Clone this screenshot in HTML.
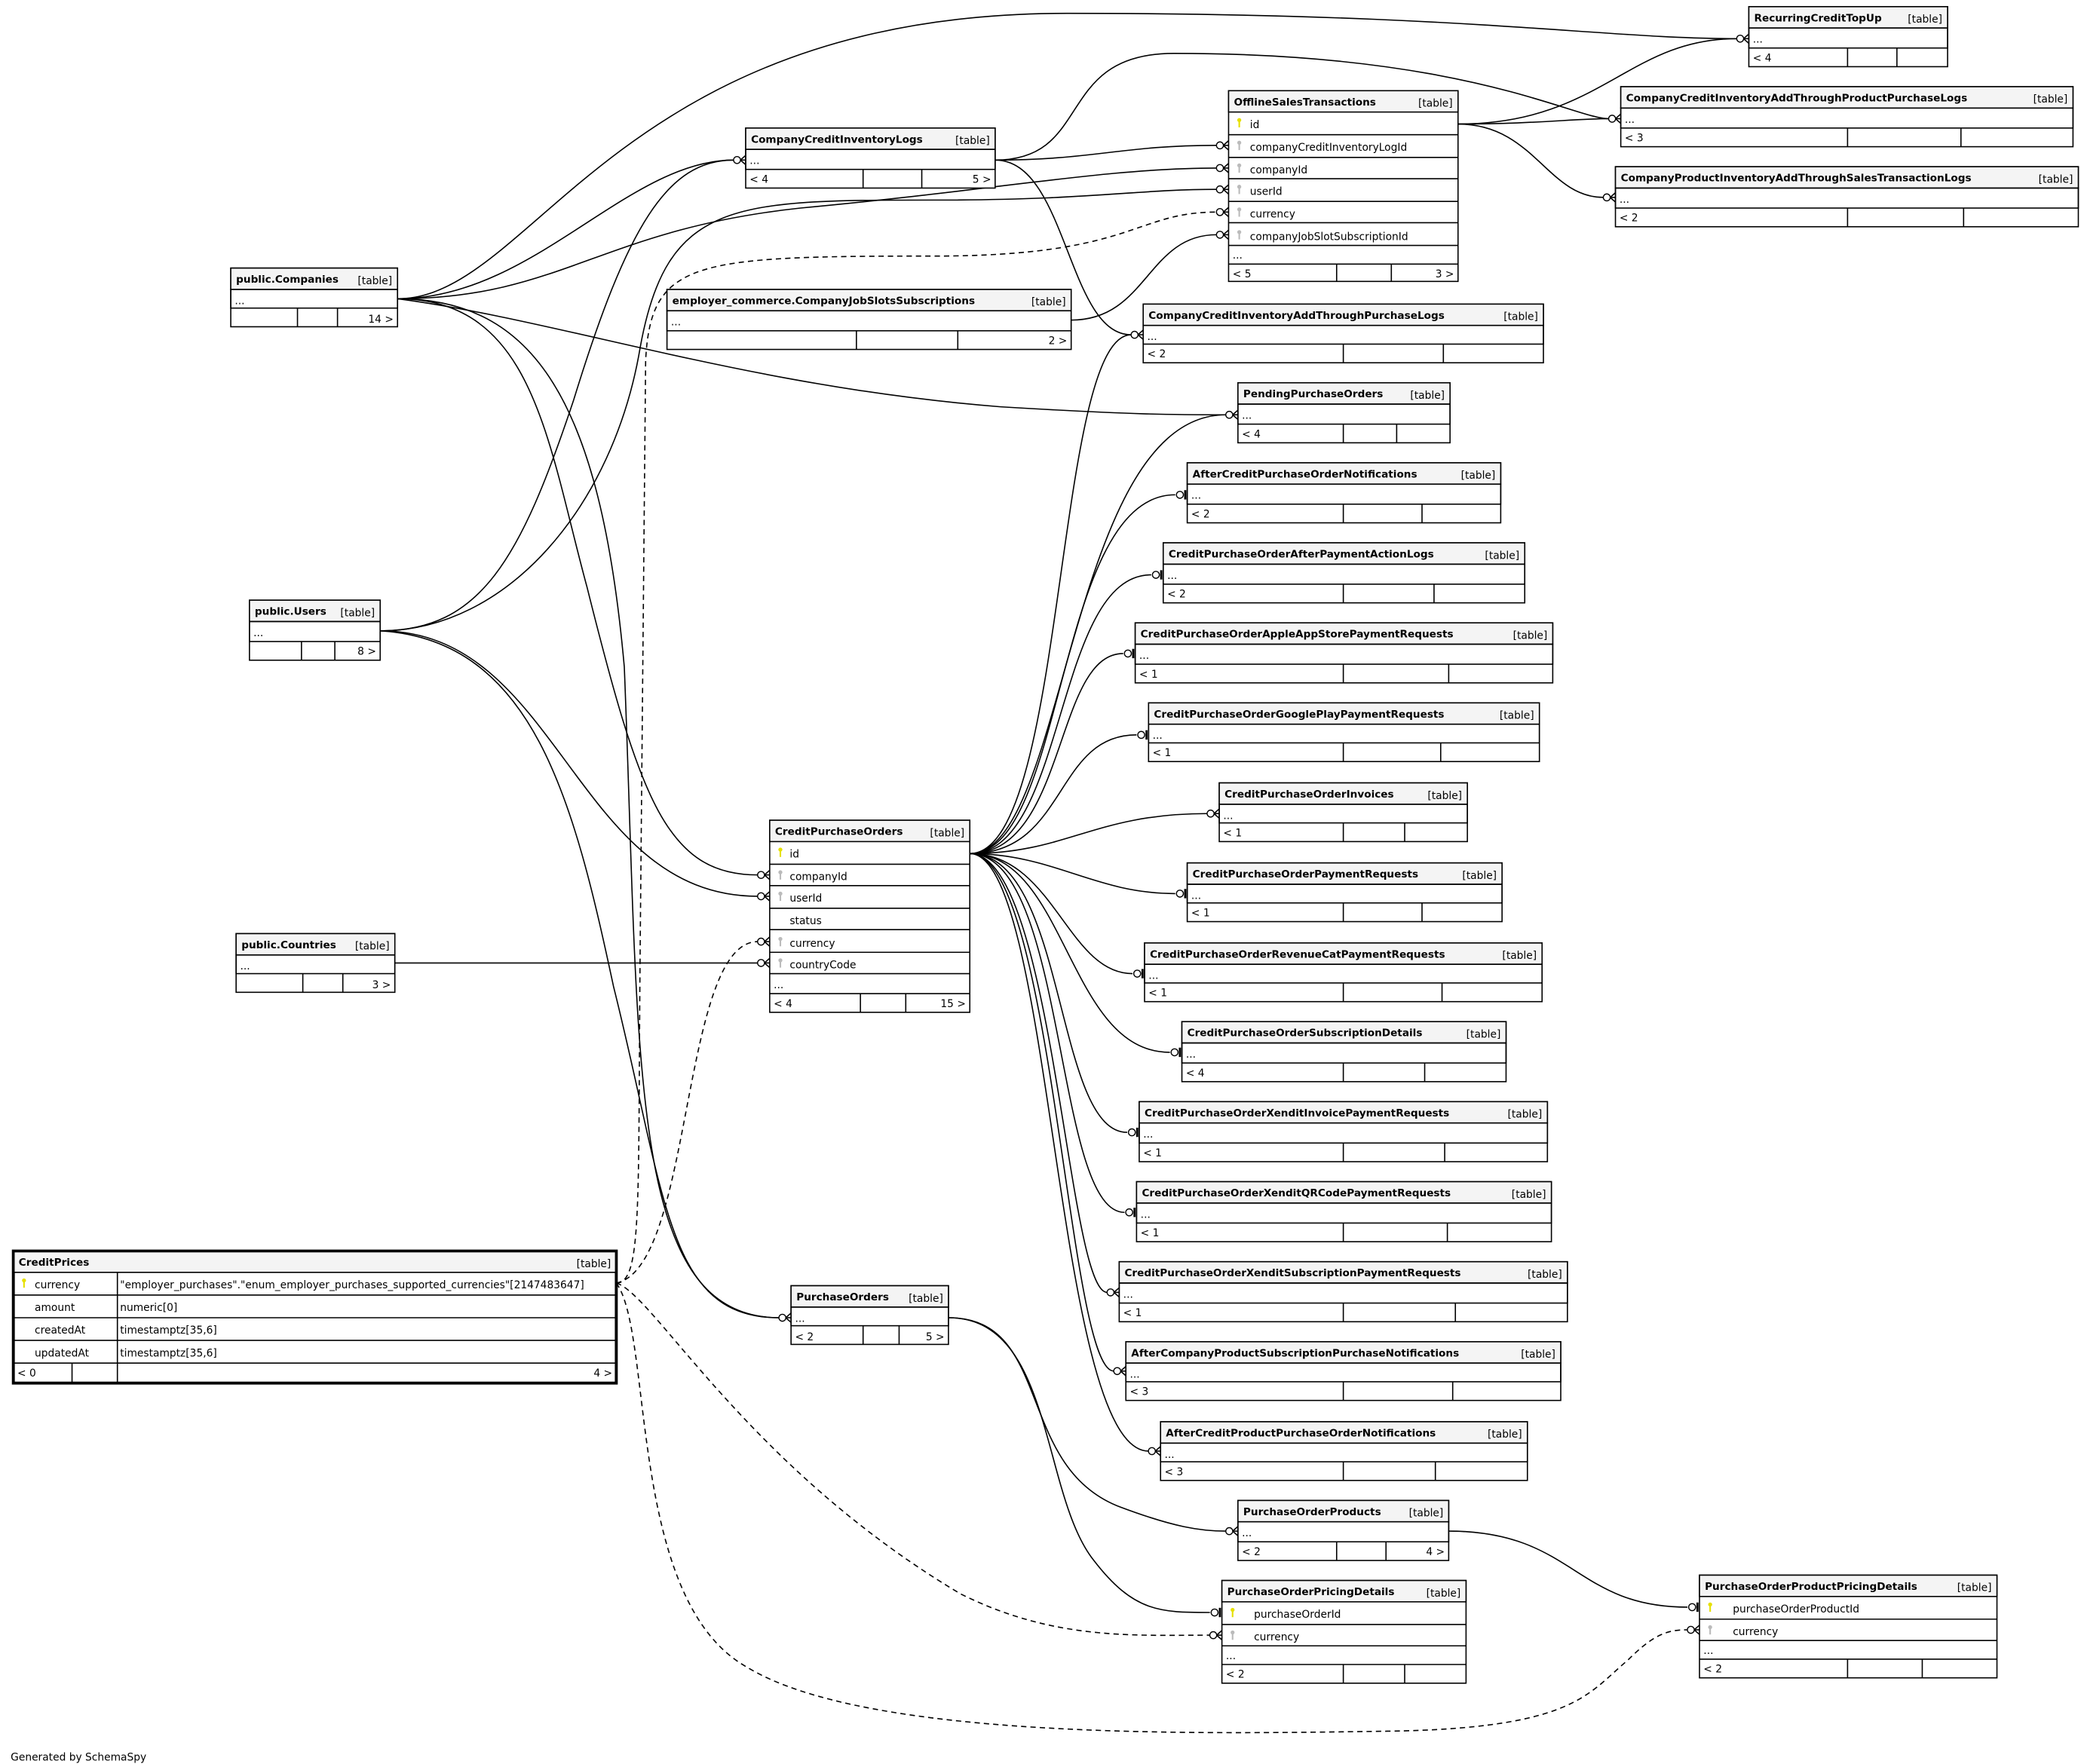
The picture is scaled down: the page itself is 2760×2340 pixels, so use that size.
<!DOCTYPE html>
<html><head><meta charset="utf-8"><style>
html,body{margin:0;padding:0;background:#fff;}
svg{display:block}
.h{font:bold 7.7px "DejaVu Sans","Liberation Sans",sans-serif}
.t{font:7.8px "DejaVu Sans","Liberation Sans",sans-serif}
.e{fill:none;stroke:#000;stroke-width:.9}
.d{fill:none;stroke:#000;stroke-width:.9;stroke-dasharray:4,3}
.b{fill:#fff;stroke:#000;stroke-width:.9}
.g{fill:#f4f4f4;stroke:#000;stroke-width:.9}
.l{stroke:#000;stroke-width:.9}
.c{fill:#fff;stroke:#000;stroke-width:.8}
.pk{stroke:#e6e000;stroke-width:1.2}
.fk{stroke:#bbb;stroke-width:1.2}
</style></head><body>
<svg width="2760" height="2340" viewBox="0 0 1560 1322.6" preserveAspectRatio="none" xmlns="http://www.w3.org/2000/svg">
<rect width="1560" height="1323" fill="#fff"/>
<defs>
<g id="many"><line class="l" x1="-4" y1="0" x2="0" y2="-3.5"/><line class="l" x1="-4" y1="0" x2="0" y2="3.5"/><line class="l" x1="-4" y1="0" x2="0" y2="0"/><circle class="c" cx="-6.5" cy="0" r="2.6"/></g>
<g id="one"><line class="l" x1="-1.5" y1="-3.5" x2="-1.5" y2="3.5" style="stroke-width:1.6"/><circle class="c" cx="-5.5" cy="0" r="2.6"/></g>
<g id="pkey"><circle cx="0" cy="-2" r="1.5" fill="#e6e000"/><line class="pk" x1="0" y1="-2" x2="0" y2="3.5"/></g>
<g id="fkey"><circle cx="0" cy="-2" r="1.5" fill="#bbb"/><line class="fk" x1="0" y1="-2" x2="0" y2="3.5"/></g>
</defs>

<!-- edges -->
<path class="e" d="M298,224 C400,224 460,10 800,10 C1100,10 1200,29 1302,29"/>
<path class="e" d="M298,224 C400,224 470,120 550,120"/>
<path class="e" d="M298,224 C420,224 450,172 600,156 C750,142 830,126 912,126"/>
<path class="e" d="M298,224 C420,240 560,290 750,305 C850,311 880,311 919,311"/>
<path class="e" d="M298,224 C400,224 410,330 440,440 C480,600 500,656 568,656"/>
<path class="e" d="M298,224 C400,224 450,300 468,500 C480,800 470,988 584,988"/>
<path class="e" d="M285,473 C360,473 390,420 430,300 C470,170 500,120 550,120"/>
<path class="e" d="M285,473 C380,473 460,380 480,260 C500,150 550,150 700,150 C820,150 850,142 912,142"/>
<path class="e" d="M285,473 C420,473 430,672 568,672"/>
<path class="e" d="M285,473 C400,480 430,600 460,740 C500,900 500,988 584,988"/>
<path class="e" d="M296,722 L568,722"/>
<path class="d" d="M462,962 C482,962 478,900 480,700 L484,270 C488,195 520,192 700,192 C850,192 850,159 912,159"/>
<path class="d" d="M462,962 C520,950 510,706 568,706"/>
<path class="d" d="M462,962 C490,970 560,1100 720,1195 C790,1230 850,1226 907,1226"/>
<path class="d" d="M462,962 C490,1000 470,1200 560,1250 C650,1305 900,1300 1040,1298 C1180,1296 1190,1270 1220,1245 C1240,1225 1250,1222 1265,1222"/>
<path class="e" d="M746,120 C820,120 840,109 912,109"/>
<path class="e" d="M746,120 C800,120 800,251 848,251"/>
<path class="e" d="M746,120 C820,120 790,40 880,40 C1100,40 1180,89 1206,89"/>
<path class="e" d="M803,240 C860,240 860,176 912,176"/>
<path class="e" d="M1093,93 C1200,93 1220,29 1302,29"/>
<path class="e" d="M1093,93 C1150,93 1180,89 1206,89"/>
<path class="e" d="M1093,93 C1150,93 1160,148 1202,148"/>
<path class="e" d="M727,640 C800,640 790,251 848,251"/>
<path class="e" d="M727,640 C800,640 800,311 919,311"/>
<path class="e" d="M727,640 C800,640 790,371 881,371"/>
<path class="e" d="M727,640 C800,640 790,431 863,431"/>
<path class="e" d="M727,640 C800,640 790,490 842,490"/>
<path class="e" d="M727,640 C800,640 790,551 852,551"/>
<path class="e" d="M727,640 C800,640 820,610 905,610"/>
<path class="e" d="M727,640 C790,640 820,670 881,670"/>
<path class="e" d="M727,640 C790,640 800,730 849,730"/>
<path class="e" d="M727,640 C800,640 800,789 877,789"/>
<path class="e" d="M727,640 C800,640 790,849 845,849"/>
<path class="e" d="M727,640 C800,640 790,909 843,909"/>
<path class="e" d="M727,640 C790,640 800,969 830,969"/>
<path class="e" d="M727,640 C790,640 800,1028 835,1028"/>
<path class="e" d="M727,640 C790,640 790,1088 861,1088"/>
<path class="e" d="M711,988 C790,988 760,1100 840,1130 C880,1145 900,1148 919,1148"/>
<path class="e" d="M711,988 C790,988 780,1120 820,1170 C850,1209 870,1209 907,1209"/>
<path class="e" d="M1086,1148 C1180,1148 1180,1205 1265,1205"/>

<!-- markers -->
<use href="#many" x="1311" y="29"/>
<use href="#many" x="559" y="120"/>
<use href="#many" x="921" y="109"/>
<use href="#many" x="921" y="126"/>
<use href="#many" x="921" y="142"/>
<use href="#many" x="921" y="159"/>
<use href="#many" x="921" y="176"/>
<use href="#many" x="1215" y="89"/>
<use href="#many" x="1211" y="148"/>
<use href="#many" x="857" y="251"/>
<use href="#many" x="928" y="311"/>
<use href="#one" x="890" y="371"/>
<use href="#one" x="872" y="431"/>
<use href="#one" x="851" y="490"/>
<use href="#one" x="861" y="551"/>
<use href="#many" x="914" y="610"/>
<use href="#one" x="890" y="670"/>
<use href="#one" x="858" y="730"/>
<use href="#one" x="886" y="789"/>
<use href="#one" x="854" y="849"/>
<use href="#one" x="852" y="909"/>
<use href="#many" x="839" y="969"/>
<use href="#many" x="844" y="1028"/>
<use href="#many" x="870" y="1088"/>
<use href="#many" x="577" y="656"/>
<use href="#many" x="577" y="672"/>
<use href="#many" x="577" y="706"/>
<use href="#many" x="577" y="722"/>
<use href="#many" x="593" y="988"/>
<use href="#many" x="928" y="1148"/>
<use href="#one" x="916" y="1209"/>
<use href="#many" x="916" y="1226"/>
<use href="#one" x="1274" y="1205"/>
<use href="#many" x="1274" y="1222"/>

<!-- simple tables -->
<g>
<rect class="b" x="1311" y="5" width="149" height="45"/><rect class="g" x="1311" y="5" width="149" height="16"/><rect class="e" x="1311" y="21" width="149" height="15"/>
<text class="h" x="1315" y="16">RecurringCreditTopUp</text><text class="t" x="1456" y="17" text-anchor="end">[table]</text>
<text class="t" x="1314" y="32">...</text><line class="l" x1="1385" y1="36" x2="1385" y2="50"/><line class="l" x1="1422" y1="36" x2="1422" y2="50"/><text class="t" x="1314" y="46">&lt; 4</text>
</g>
<g>
<rect class="b" x="1215" y="65" width="339" height="45"/><rect class="g" x="1215" y="65" width="339" height="16"/><rect class="e" x="1215" y="81" width="339" height="15"/>
<text class="h" x="1219" y="76">CompanyCreditInventoryAddThroughProductPurchaseLogs</text><text class="t" x="1550" y="77" text-anchor="end">[table]</text>
<text class="t" x="1218" y="92">...</text><line class="l" x1="1385" y1="96" x2="1385" y2="110"/><line class="l" x1="1470" y1="96" x2="1470" y2="110"/><text class="t" x="1218" y="106">&lt; 3</text>
</g>
<g>
<rect class="b" x="1211" y="125" width="347" height="45"/><rect class="g" x="1211" y="125" width="347" height="16"/><rect class="e" x="1211" y="141" width="347" height="15"/>
<text class="h" x="1215" y="136">CompanyProductInventoryAddThroughSalesTransactionLogs</text><text class="t" x="1554" y="137" text-anchor="end">[table]</text>
<text class="t" x="1214" y="152">...</text><line class="l" x1="1385" y1="156" x2="1385" y2="170"/><line class="l" x1="1472" y1="156" x2="1472" y2="170"/><text class="t" x="1214" y="166">&lt; 2</text>
</g>
<g>
<rect class="b" x="559" y="96" width="187" height="45"/><rect class="g" x="559" y="96" width="187" height="16"/><rect class="e" x="559" y="112" width="187" height="15"/>
<text class="h" x="563" y="107">CompanyCreditInventoryLogs</text><text class="t" x="742" y="108" text-anchor="end">[table]</text>
<text class="t" x="562" y="123">...</text><line class="l" x1="647" y1="127" x2="647" y2="141"/><line class="l" x1="691" y1="127" x2="691" y2="141"/><text class="t" x="562" y="137">&lt; 4</text><text class="t" x="743" y="137" text-anchor="end">5 &gt;</text>
</g>
<g>
<rect class="b" x="173" y="201" width="125" height="44"/><rect class="g" x="173" y="201" width="125" height="16"/><rect class="e" x="173" y="217" width="125" height="14"/>
<text class="h" x="177" y="212">public.Companies</text><text class="t" x="294" y="213" text-anchor="end">[table]</text>
<text class="t" x="176" y="228">...</text><line class="l" x1="223" y1="231" x2="223" y2="245"/><line class="l" x1="253" y1="231" x2="253" y2="245"/><text class="t" x="295" y="242" text-anchor="end">14 &gt;</text>
</g>
<g>
<rect class="b" x="500" y="217" width="303" height="45"/><rect class="g" x="500" y="217" width="303" height="16"/><rect class="e" x="500" y="233" width="303" height="15"/>
<text class="h" x="504" y="228">employer_commerce.CompanyJobSlotsSubscriptions</text><text class="t" x="799" y="229" text-anchor="end">[table]</text>
<text class="t" x="503" y="244">...</text><line class="l" x1="642" y1="248" x2="642" y2="262"/><line class="l" x1="718" y1="248" x2="718" y2="262"/><text class="t" x="800" y="258" text-anchor="end">2 &gt;</text>
</g>
<g>
<rect class="b" x="857" y="228" width="300" height="44"/><rect class="g" x="857" y="228" width="300" height="16"/><rect class="e" x="857" y="244" width="300" height="14"/>
<text class="h" x="861" y="239">CompanyCreditInventoryAddThroughPurchaseLogs</text><text class="t" x="1153" y="240" text-anchor="end">[table]</text>
<text class="t" x="860" y="255">...</text><line class="l" x1="1007" y1="258" x2="1007" y2="272"/><line class="l" x1="1082" y1="258" x2="1082" y2="272"/><text class="t" x="860" y="268">&lt; 2</text>
</g>
<g>
<rect class="b" x="928" y="287" width="159" height="45"/><rect class="g" x="928" y="287" width="159" height="16"/><rect class="e" x="928" y="303" width="159" height="15"/>
<text class="h" x="932" y="298">PendingPurchaseOrders</text><text class="t" x="1083" y="299" text-anchor="end">[table]</text>
<text class="t" x="931" y="314">...</text><line class="l" x1="1007" y1="318" x2="1007" y2="332"/><line class="l" x1="1047" y1="318" x2="1047" y2="332"/><text class="t" x="931" y="328">&lt; 4</text>
</g>
<g>
<rect class="b" x="890" y="347" width="235" height="45"/><rect class="g" x="890" y="347" width="235" height="16"/><rect class="e" x="890" y="363" width="235" height="15"/>
<text class="h" x="894" y="358">AfterCreditPurchaseOrderNotifications</text><text class="t" x="1121" y="359" text-anchor="end">[table]</text>
<text class="t" x="893" y="374">...</text><line class="l" x1="1007" y1="378" x2="1007" y2="392"/><line class="l" x1="1066" y1="378" x2="1066" y2="392"/><text class="t" x="893" y="388">&lt; 2</text>
</g>
<g>
<rect class="b" x="872" y="407" width="271" height="45"/><rect class="g" x="872" y="407" width="271" height="16"/><rect class="e" x="872" y="423" width="271" height="15"/>
<text class="h" x="876" y="418">CreditPurchaseOrderAfterPaymentActionLogs</text><text class="t" x="1139" y="419" text-anchor="end">[table]</text>
<text class="t" x="875" y="434">...</text><line class="l" x1="1007" y1="438" x2="1007" y2="452"/><line class="l" x1="1075" y1="438" x2="1075" y2="452"/><text class="t" x="875" y="448">&lt; 2</text>
</g>
<g>
<rect class="b" x="851" y="467" width="313" height="45"/><rect class="g" x="851" y="467" width="313" height="16"/><rect class="e" x="851" y="483" width="313" height="15"/>
<text class="h" x="855" y="478">CreditPurchaseOrderAppleAppStorePaymentRequests</text><text class="t" x="1160" y="479" text-anchor="end">[table]</text>
<text class="t" x="854" y="494">...</text><line class="l" x1="1007" y1="498" x2="1007" y2="512"/><line class="l" x1="1086" y1="498" x2="1086" y2="512"/><text class="t" x="854" y="508">&lt; 1</text>
</g>
<g>
<rect class="b" x="861" y="527" width="293" height="44"/><rect class="g" x="861" y="527" width="293" height="16"/><rect class="e" x="861" y="543" width="293" height="14"/>
<text class="h" x="865" y="538">CreditPurchaseOrderGooglePlayPaymentRequests</text><text class="t" x="1150" y="539" text-anchor="end">[table]</text>
<text class="t" x="864" y="554">...</text><line class="l" x1="1007" y1="557" x2="1007" y2="571"/><line class="l" x1="1080" y1="557" x2="1080" y2="571"/><text class="t" x="864" y="567">&lt; 1</text>
</g>
<g>
<rect class="b" x="914" y="587" width="186" height="44"/><rect class="g" x="914" y="587" width="186" height="16"/><rect class="e" x="914" y="603" width="186" height="14"/>
<text class="h" x="918" y="598">CreditPurchaseOrderInvoices</text><text class="t" x="1096" y="599" text-anchor="end">[table]</text>
<text class="t" x="917" y="614">...</text><line class="l" x1="1007" y1="617" x2="1007" y2="631"/><line class="l" x1="1053" y1="617" x2="1053" y2="631"/><text class="t" x="917" y="627">&lt; 1</text>
</g>
<g>
<rect class="b" x="890" y="647" width="236" height="44"/><rect class="g" x="890" y="647" width="236" height="16"/><rect class="e" x="890" y="663" width="236" height="14"/>
<text class="h" x="894" y="658">CreditPurchaseOrderPaymentRequests</text><text class="t" x="1122" y="659" text-anchor="end">[table]</text>
<text class="t" x="893" y="674">...</text><line class="l" x1="1007" y1="677" x2="1007" y2="691"/><line class="l" x1="1066" y1="677" x2="1066" y2="691"/><text class="t" x="893" y="687">&lt; 1</text>
</g>
<g>
<rect class="b" x="858" y="707" width="298" height="44"/><rect class="g" x="858" y="707" width="298" height="16"/><rect class="e" x="858" y="723" width="298" height="14"/>
<text class="h" x="862" y="718">CreditPurchaseOrderRevenueCatPaymentRequests</text><text class="t" x="1152" y="719" text-anchor="end">[table]</text>
<text class="t" x="861" y="734">...</text><line class="l" x1="1007" y1="737" x2="1007" y2="751"/><line class="l" x1="1081" y1="737" x2="1081" y2="751"/><text class="t" x="861" y="747">&lt; 1</text>
</g>
<g>
<rect class="b" x="886" y="766" width="243" height="45"/><rect class="g" x="886" y="766" width="243" height="16"/><rect class="e" x="886" y="782" width="243" height="15"/>
<text class="h" x="890" y="777">CreditPurchaseOrderSubscriptionDetails</text><text class="t" x="1125" y="778" text-anchor="end">[table]</text>
<text class="t" x="889" y="793">...</text><line class="l" x1="1007" y1="797" x2="1007" y2="811"/><line class="l" x1="1068" y1="797" x2="1068" y2="811"/><text class="t" x="889" y="807">&lt; 4</text>
</g>
<g>
<rect class="b" x="854" y="826" width="306" height="45"/><rect class="g" x="854" y="826" width="306" height="16"/><rect class="e" x="854" y="842" width="306" height="15"/>
<text class="h" x="858" y="837">CreditPurchaseOrderXenditInvoicePaymentRequests</text><text class="t" x="1156" y="838" text-anchor="end">[table]</text>
<text class="t" x="857" y="853">...</text><line class="l" x1="1007" y1="857" x2="1007" y2="871"/><line class="l" x1="1083" y1="857" x2="1083" y2="871"/><text class="t" x="857" y="867">&lt; 1</text>
</g>
<g>
<rect class="b" x="852" y="886" width="311" height="45"/><rect class="g" x="852" y="886" width="311" height="16"/><rect class="e" x="852" y="902" width="311" height="15"/>
<text class="h" x="856" y="897">CreditPurchaseOrderXenditQRCodePaymentRequests</text><text class="t" x="1159" y="898" text-anchor="end">[table]</text>
<text class="t" x="855" y="913">...</text><line class="l" x1="1007" y1="917" x2="1007" y2="931"/><line class="l" x1="1085" y1="917" x2="1085" y2="931"/><text class="t" x="855" y="927">&lt; 1</text>
</g>
<g>
<rect class="b" x="839" y="946" width="336" height="45"/><rect class="g" x="839" y="946" width="336" height="16"/><rect class="e" x="839" y="962" width="336" height="15"/>
<text class="h" x="843" y="957">CreditPurchaseOrderXenditSubscriptionPaymentRequests</text><text class="t" x="1171" y="958" text-anchor="end">[table]</text>
<text class="t" x="842" y="973">...</text><line class="l" x1="1007" y1="977" x2="1007" y2="991"/><line class="l" x1="1091" y1="977" x2="1091" y2="991"/><text class="t" x="842" y="987">&lt; 1</text>
</g>
<g>
<rect class="b" x="844" y="1006" width="326" height="44"/><rect class="g" x="844" y="1006" width="326" height="16"/><rect class="e" x="844" y="1022" width="326" height="14"/>
<text class="h" x="848" y="1017">AfterCompanyProductSubscriptionPurchaseNotifications</text><text class="t" x="1166" y="1018" text-anchor="end">[table]</text>
<text class="t" x="847" y="1033">...</text><line class="l" x1="1007" y1="1036" x2="1007" y2="1050"/><line class="l" x1="1089" y1="1036" x2="1089" y2="1050"/><text class="t" x="847" y="1046">&lt; 3</text>
</g>
<g>
<rect class="b" x="870" y="1066" width="275" height="44"/><rect class="g" x="870" y="1066" width="275" height="16"/><rect class="e" x="870" y="1082" width="275" height="14"/>
<text class="h" x="874" y="1077">AfterCreditProductPurchaseOrderNotifications</text><text class="t" x="1141" y="1078" text-anchor="end">[table]</text>
<text class="t" x="873" y="1093">...</text><line class="l" x1="1007" y1="1096" x2="1007" y2="1110"/><line class="l" x1="1076" y1="1096" x2="1076" y2="1110"/><text class="t" x="873" y="1106">&lt; 3</text>
</g>
<g>
<rect class="b" x="928" y="1125" width="158" height="45"/><rect class="g" x="928" y="1125" width="158" height="16"/><rect class="e" x="928" y="1141" width="158" height="15"/>
<text class="h" x="932" y="1136">PurchaseOrderProducts</text><text class="t" x="1082" y="1137" text-anchor="end">[table]</text>
<text class="t" x="931" y="1152">...</text><line class="l" x1="1002" y1="1156" x2="1002" y2="1170"/><line class="l" x1="1039" y1="1156" x2="1039" y2="1170"/><text class="t" x="931" y="1166">&lt; 2</text><text class="t" x="1083" y="1166" text-anchor="end">4 &gt;</text>
</g>
<g>
<rect class="b" x="187" y="450" width="98" height="45"/><rect class="g" x="187" y="450" width="98" height="16"/><rect class="e" x="187" y="466" width="98" height="15"/>
<text class="h" x="191" y="461">public.Users</text><text class="t" x="281" y="462" text-anchor="end">[table]</text>
<text class="t" x="190" y="477">...</text><line class="l" x1="226" y1="481" x2="226" y2="495"/><line class="l" x1="251" y1="481" x2="251" y2="495"/><text class="t" x="282" y="491" text-anchor="end">8 &gt;</text>
</g>
<g>
<rect class="b" x="177" y="700" width="119" height="44"/><rect class="g" x="177" y="700" width="119" height="16"/><rect class="e" x="177" y="716" width="119" height="14"/>
<text class="h" x="181" y="711">public.Countries</text><text class="t" x="292" y="712" text-anchor="end">[table]</text>
<text class="t" x="180" y="727">...</text><line class="l" x1="227" y1="730" x2="227" y2="744"/><line class="l" x1="257" y1="730" x2="257" y2="744"/><text class="t" x="293" y="741" text-anchor="end">3 &gt;</text>
</g>
<g>
<rect class="b" x="593" y="964" width="118" height="44"/><rect class="g" x="593" y="964" width="118" height="16"/><rect class="e" x="593" y="980" width="118" height="14"/>
<text class="h" x="597" y="975">PurchaseOrders</text><text class="t" x="707" y="976" text-anchor="end">[table]</text>
<text class="t" x="596" y="991">...</text><line class="l" x1="647" y1="994" x2="647" y2="1008"/><line class="l" x1="674" y1="994" x2="674" y2="1008"/><text class="t" x="596" y="1005">&lt; 2</text><text class="t" x="708" y="1005" text-anchor="end">5 &gt;</text>
</g>

<!-- OfflineSalesTransactions -->
<g>
<rect class="b" x="921" y="68" width="172" height="143"/><rect class="g" x="921" y="68" width="172" height="16"/>
<line class="l" x1="921" y1="101" x2="1093" y2="101"/><line class="l" x1="921" y1="118" x2="1093" y2="118"/><line class="l" x1="921" y1="134" x2="1093" y2="134"/><line class="l" x1="921" y1="151" x2="1093" y2="151"/><line class="l" x1="921" y1="167" x2="1093" y2="167"/><line class="l" x1="921" y1="184" x2="1093" y2="184"/><line class="l" x1="921" y1="198" x2="1093" y2="198"/>
<text class="h" x="925" y="79">OfflineSalesTransactions</text><text class="t" x="1089" y="80" text-anchor="end">[table]</text>
<use href="#pkey" x="929" y="92"/><text class="t" x="937" y="96">id</text>
<use href="#fkey" x="929" y="109"/><text class="t" x="937" y="113">companyCreditInventoryLogId</text>
<use href="#fkey" x="929" y="126"/><text class="t" x="937" y="130">companyId</text>
<use href="#fkey" x="929" y="142"/><text class="t" x="937" y="146">userId</text>
<use href="#fkey" x="929" y="159"/><text class="t" x="937" y="163">currency</text>
<use href="#fkey" x="929" y="176"/><text class="t" x="937" y="180">companyJobSlotSubscriptionId</text>
<text class="t" x="924" y="194">...</text>
<line class="l" x1="1002" y1="198" x2="1002" y2="211"/><line class="l" x1="1043" y1="198" x2="1043" y2="211"/>
<text class="t" x="924" y="208">&lt; 5</text><text class="t" x="1090" y="208" text-anchor="end">3 &gt;</text>
</g>

<!-- CreditPurchaseOrders -->
<g>
<rect class="b" x="577" y="615" width="150" height="144"/><rect class="g" x="577" y="615" width="150" height="16"/>
<line class="l" x1="577" y1="648" x2="727" y2="648"/><line class="l" x1="577" y1="664" x2="727" y2="664"/><line class="l" x1="577" y1="681" x2="727" y2="681"/><line class="l" x1="577" y1="697" x2="727" y2="697"/><line class="l" x1="577" y1="714" x2="727" y2="714"/><line class="l" x1="577" y1="730" x2="727" y2="730"/><line class="l" x1="577" y1="745" x2="727" y2="745"/>
<text class="h" x="581" y="626">CreditPurchaseOrders</text><text class="t" x="723" y="627" text-anchor="end">[table]</text>
<use href="#pkey" x="585" y="639"/><text class="t" x="592" y="643">id</text>
<use href="#fkey" x="585" y="656"/><text class="t" x="592" y="660">companyId</text>
<use href="#fkey" x="585" y="672"/><text class="t" x="592" y="676">userId</text>
<text class="t" x="592" y="693">status</text>
<use href="#fkey" x="585" y="706"/><text class="t" x="592" y="710">currency</text>
<use href="#fkey" x="585" y="722"/><text class="t" x="592" y="726">countryCode</text>
<text class="t" x="580" y="741">...</text>
<line class="l" x1="645" y1="745" x2="645" y2="759"/><line class="l" x1="679" y1="745" x2="679" y2="759"/>
<text class="t" x="580" y="755">&lt; 4</text><text class="t" x="724" y="755" text-anchor="end">15 &gt;</text>
</g>

<!-- PurchaseOrderPricingDetails -->
<g>
<rect class="b" x="916" y="1185" width="183" height="77"/><rect class="g" x="916" y="1185" width="183" height="16"/>
<line class="l" x1="916" y1="1218" x2="1099" y2="1218"/><line class="l" x1="916" y1="1234" x2="1099" y2="1234"/><line class="l" x1="916" y1="1248" x2="1099" y2="1248"/>
<text class="h" x="920" y="1196">PurchaseOrderPricingDetails</text><text class="t" x="1095" y="1197" text-anchor="end">[table]</text>
<use href="#pkey" x="924" y="1209"/><text class="t" x="940" y="1213">purchaseOrderId</text>
<use href="#fkey" x="924" y="1226"/><text class="t" x="940" y="1230">currency</text>
<text class="t" x="919" y="1244">...</text>
<line class="l" x1="1007" y1="1248" x2="1007" y2="1262"/><line class="l" x1="1053" y1="1248" x2="1053" y2="1262"/>
<text class="t" x="919" y="1258">&lt; 2</text>
</g>

<!-- PurchaseOrderProductPricingDetails -->
<g>
<rect class="b" x="1274" y="1181" width="223" height="77"/><rect class="g" x="1274" y="1181" width="223" height="16"/>
<line class="l" x1="1274" y1="1214" x2="1497" y2="1214"/><line class="l" x1="1274" y1="1230" x2="1497" y2="1230"/><line class="l" x1="1274" y1="1244" x2="1497" y2="1244"/>
<text class="h" x="1278" y="1192">PurchaseOrderProductPricingDetails</text><text class="t" x="1493" y="1193" text-anchor="end">[table]</text>
<use href="#pkey" x="1282" y="1205"/><text class="t" x="1299" y="1209">purchaseOrderProductId</text>
<use href="#fkey" x="1282" y="1222"/><text class="t" x="1299" y="1226">currency</text>
<text class="t" x="1277" y="1240">...</text>
<line class="l" x1="1385" y1="1244" x2="1385" y2="1258"/><line class="l" x1="1441" y1="1244" x2="1441" y2="1258"/>
<text class="t" x="1277" y="1254">&lt; 2</text>
</g>

<!-- CreditPrices -->
<g>
<rect x="10" y="938" width="452" height="99" fill="#fff" stroke="#000" stroke-width="2.2"/>
<rect x="11" y="939" width="450" height="15" fill="#f4f4f4"/>
<line class="l" x1="10" y1="954" x2="462" y2="954"/><line class="l" x1="10" y1="971" x2="462" y2="971"/><line class="l" x1="10" y1="988" x2="462" y2="988"/><line class="l" x1="10" y1="1005" x2="462" y2="1005"/><line class="l" x1="10" y1="1022" x2="462" y2="1022"/>
<line class="l" x1="88" y1="954" x2="88" y2="1037"/><line class="l" x1="54" y1="1022" x2="54" y2="1037"/>
<text class="h" x="14" y="949">CreditPrices</text><text class="t" x="458" y="950" text-anchor="end">[table]</text>
<use href="#pkey" x="18" y="962"/><text class="t" x="26" y="966">currency</text><text class="t" x="90" y="966">"employer_purchases"."enum_employer_purchases_supported_currencies"[2147483647]</text>
<text class="t" x="26" y="983">amount</text><text class="t" x="90" y="983">numeric[0]</text>
<text class="t" x="26" y="1000">createdAt</text><text class="t" x="90" y="1000">timestamptz[35,6]</text>
<text class="t" x="26" y="1017">updatedAt</text><text class="t" x="90" y="1017">timestamptz[35,6]</text>
<text class="t" x="13" y="1032">&lt; 0</text><text class="t" x="459" y="1032" text-anchor="end">4 &gt;</text>
</g>

<text class="t" x="8" y="1320">Generated by SchemaSpy</text>
</svg>
</body></html>
